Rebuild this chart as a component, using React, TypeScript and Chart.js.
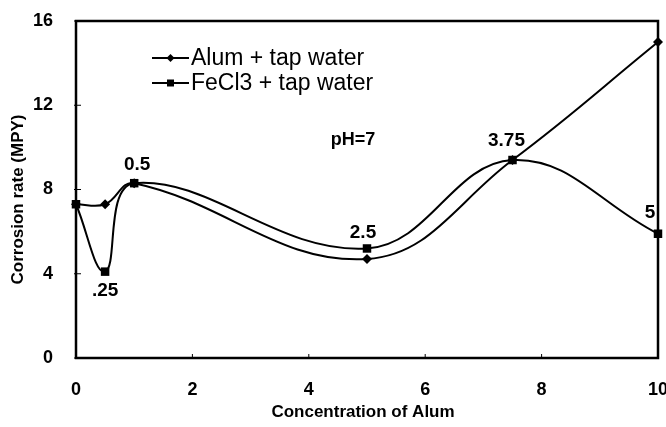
import React, { useEffect, useRef } from 'react';
import { Chart, registerables } from 'chart.js';

Chart.register(...registerables);

// ---- data ----
const concentrations = [0, 0.5, 1, 5, 7.5, 10];
const alumTap = [7.3, 7.3, 8.3, 4.7, 9.4, 15.0];
const fecl3Tap = [7.3, 4.1, 8.3, 5.2, 9.4, 5.9];
const pointLabels = ['', '.25', '0.5', '2.5', '3.75', '5'];
const seriesNames = ['Alum + tap water', 'FeCl3 + tap water'];
const xTicks = [0, 2, 4, 6, 8, 10];
const yTicks = [0, 4, 8, 12, 16];
const xTitle = 'Concentration of Alum';
const yTitle = 'Corrosion rate (MPY)';
const noteText = 'pH=7';

const FONT = '"Liberation Sans", Arial, Helvetica, sans-serif';

function drawMarker(ctx: CanvasRenderingContext2D, style: string, x: number, y: number, r: number) {
  ctx.beginPath();
  if (style === 'rectRot') {
    ctx.moveTo(x, y - r);
    ctx.lineTo(x + r, y);
    ctx.lineTo(x, y + r);
    ctx.lineTo(x - r, y);
    ctx.closePath();
  } else {
    ctx.rect(x - r, y - r, 2 * r, 2 * r);
  }
  ctx.fill();
}

const decorPlugin = {
  id: 'decor',
  beforeDatasetsDraw(chart: any) {
    const { ctx, chartArea: a, scales } = chart;
    ctx.save();
    ctx.strokeStyle = '#000';
    ctx.lineWidth = 2.5;
    ctx.strokeRect(a.left, a.top, a.right - a.left, a.bottom - a.top);
    ctx.lineWidth = 1;
    scales.y.ticks.forEach((t: any) => {
      const y = scales.y.getPixelForValue(t.value);
      ctx.beginPath();
      ctx.moveTo(a.left - 2, y);
      ctx.lineTo(a.left + 5, y);
      ctx.stroke();
    });
    scales.x.ticks.forEach((t: any) => {
      const x = scales.x.getPixelForValue(t.value);
      ctx.beginPath();
      ctx.moveTo(x, a.bottom + 1);
      ctx.lineTo(x, a.bottom - 4);
      ctx.stroke();
    });
    ctx.restore();
  },
  afterDraw(chart: any) {
    const { ctx, chartArea: a, scales } = chart;
    ctx.save();
    ctx.fillStyle = '#000';
    ctx.strokeStyle = '#000';

    // axis titles
    ctx.font = `bold 17px ${FONT}`;
    ctx.textAlign = 'center';
    ctx.textBaseline = 'middle';
    ctx.fillText(xTitle, (a.left + a.right) / 2 - 4, 412);
    ctx.save();
    ctx.translate(18, (a.top + a.bottom) / 2 + 10);
    ctx.rotate(-Math.PI / 2);
    ctx.fillText(yTitle, 0, 0);
    ctx.restore();

    // legend
    const lx0 = a.left + 76;
    const lx1 = a.left + 113;
    chart.data.datasets.forEach((ds: any, i: number) => {
      const y = a.top + 37 + i * 25;
      ctx.lineWidth = 2;
      ctx.beginPath();
      ctx.moveTo(lx0, y);
      ctx.lineTo(lx1, y);
      ctx.stroke();
      drawMarker(ctx, ds.pointStyle, (lx0 + lx1) / 2, y, ds.pointStyle === 'rect' ? 3.5 : 4);
      ctx.font = `23px ${FONT}`;
      ctx.textAlign = 'left';
      ctx.textBaseline = 'middle';
      ctx.fillText(ds.label, lx1 + 2, y + 1);
    });

    // note
    ctx.font = `bold 18px ${FONT}`;
    ctx.textAlign = 'center';
    ctx.textBaseline = 'middle';
    ctx.fillText(noteText, scales.x.getPixelForValue(4.76), scales.y.getPixelForValue(10.35));

    // point labels on FeCl3 series
    const offsets = [
      [0, 0],
      [0, 19],
      [3, -18],
      [-4, -16],
      [-6, -19],
      [-8, -21],
    ];
    const meta = chart.getDatasetMeta(1);
    ctx.font = `bold 19px ${FONT}`;
    meta.data.forEach((p: any, i: number) => {
      const txt = pointLabels[i];
      if (!txt) return;
      ctx.fillText(txt, p.x + offsets[i][0], p.y + offsets[i][1]);
    });
    ctx.restore();
  },
};

export default function App() {
  const ref = useRef<HTMLCanvasElement>(null);

  useEffect(() => {
    document.body.style.margin = '0';
    const canvas = ref.current!;
    const chart = new Chart(canvas, {
      type: 'line',
      data: {
        datasets: [
          {
            label: seriesNames[0],
            data: concentrations.map((x, i) => ({ x, y: alumTap[i] })),
            borderColor: '#000',
            backgroundColor: '#000',
            borderWidth: 2,
            pointStyle: 'rectRot',
            pointRadius: 5,
            pointBorderWidth: 0,
            tension: 0.4,
            clip: false,
          },
          {
            label: seriesNames[1],
            data: concentrations.map((x, i) => ({ x, y: fecl3Tap[i] })),
            borderColor: '#000',
            backgroundColor: '#000',
            borderWidth: 2,
            pointStyle: 'rect',
            pointRadius: 6,
            pointBorderWidth: 0,
            tension: 0.4,
            clip: false,
          },
        ],
      },
      options: {
        animation: false,
        responsive: false,
        layout: { padding: { top: 21, right: 8, left: 0, bottom: 0 } },
        plugins: { legend: { display: false }, tooltip: { enabled: false } },
        scales: {
          x: {
            type: 'linear',
            min: 0,
            max: 10,
            afterBuildTicks: (s: any) => {
              s.ticks = xTicks.map((v) => ({ value: v }));
            },
            afterFit: (s: any) => {
              s.height = 69;
              s.paddingLeft = 0;
              s.paddingRight = 0;
            },
            grid: { display: false, drawTicks: false },
            border: { display: false },
            ticks: {
              color: '#000',
              font: { family: FONT, size: 18, weight: 'bold' },
              padding: 21,
              maxRotation: 0,
              autoSkip: false,
            },
          },
          y: {
            type: 'linear',
            min: 0,
            max: 16,
            afterBuildTicks: (s: any) => {
              s.ticks = yTicks.map((v) => ({ value: v }));
            },
            afterFit: (s: any) => {
              s.width = 76;
              s.paddingTop = 0;
              s.paddingBottom = 0;
            },
            grid: { display: false, drawTicks: false },
            border: { display: false },
            ticks: {
              color: '#000',
              font: { family: FONT, size: 18, weight: 'bold' },
              padding: 23,
              autoSkip: false,
            },
          },
        },
      },
      plugins: [decorPlugin],
    } as any);
    return () => chart.destroy();
  }, []);

  return <canvas ref={ref} width={666} height={427} style={{ display: 'block' }} />;
}
